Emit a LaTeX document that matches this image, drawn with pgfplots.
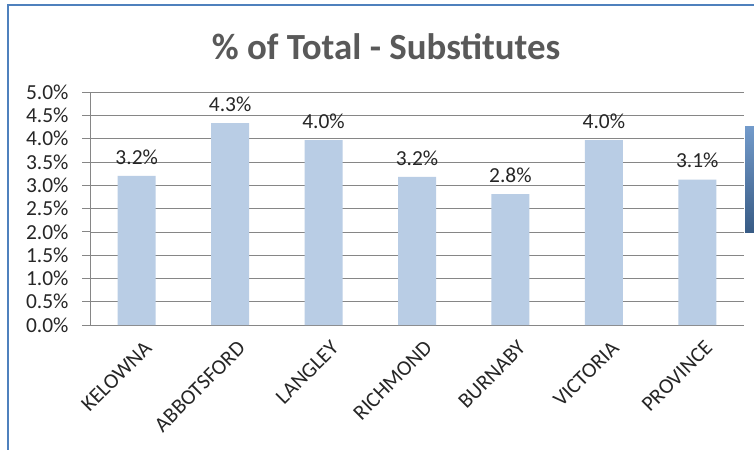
\documentclass[border=0pt]{standalone}
\usepackage{pgfplots}
\pgfplotsset{compat=1.18}
\usepackage{fontspec}
\setmainfont{Carlito}
\definecolor{barblue}{HTML}{B9CDE5}
\definecolor{frameblue}{HTML}{4F81BD}
\definecolor{titlegrey}{HTML}{595959}
\definecolor{gridgrey}{HTML}{868686}
\begin{document}
\begin{tikzpicture}[x=1bp,y=1bp]
\path[use as bounding box] (0,0) rectangle (754,-450);
\fill[white] (0,0) rectangle (754,-450);
\draw[frameblue, line width=2bp] (8,-450) -- (8,-5) -- (754,-5);
\shade[top color=frameblue!80, bottom color=frameblue!70!black] (745,-127) rectangle (754,-233);
\node[font=\fontsize{37}{42}\selectfont\bfseries, text=titlegrey] at (386,-47) {\% of Total - Substitutes};
\begin{axis}[
  at={(90bp,-325bp)}, anchor=south west,
  scale only axis, width=654bp, height=233bp,
  xmin=-0.5, xmax=6.5, ymin=0, ymax=5,
  ytick={0,0.5,...,5},
  yticklabel={\pgfmathprintnumber[fixed,fixed zerofill,precision=1]{\tick}\%},
  /pgf/number format/assume math mode=true,
  ymajorgrids, grid style={gridgrey, line width=0.6bp},
  axis line style={gridgrey, line width=0.8bp},
  axis x line=bottom, axis y line=left,
  x axis line style={-}, y axis line style={-},
  major tick style={gridgrey, line width=0.8bp},
  tick align=outside,
  major tick length=8bp,
  xtick={0,...,6},
  xticklabels={KELOWNA,ABBOTSFORD,LANGLEY,RICHMOND,BURNABY,VICTORIA,PROVINCE},
  x tick style={draw=none},
  minor xtick={-0.5,0.5,...,6.5},
  minor tick length=7bp,
  minor x tick style={gridgrey, line width=0.8bp},
  xticklabel style={rotate=45, anchor=north east, font=\fontsize{21.5}{24}\selectfont, text=black!85, xshift=1bp, yshift=-8bp, inner sep=1bp},
  yticklabel style={font=\fontsize{21.5}{24}\selectfont, text=black!85, xshift=-10bp},
  ybar, bar width=38bp,
  nodes near coords={\pgfmathprintnumber[fixed,fixed zerofill,precision=1]{\pgfplotspointmeta}\%},
  nodes near coords style={font=\fontsize{21.5}{24}\selectfont, text=black!85, yshift=8bp},
  clip=false,
]
\addplot[fill=barblue, draw=none] coordinates {(0,3.2) (1,4.33) (2,3.97) (3,3.18) (4,2.81) (5,3.97) (6,3.12)};
\end{axis}
\end{tikzpicture}
\end{document}
